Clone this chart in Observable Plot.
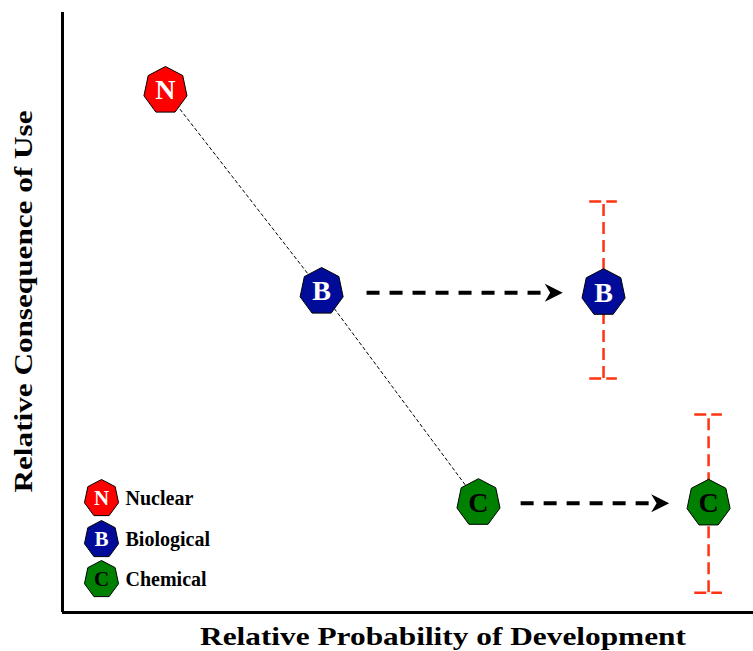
<!DOCTYPE html>
<html>
<head>
<meta charset="utf-8">
<script src="https://cdn.jsdelivr.net/npm/d3@7"></script>
<script src="https://cdn.jsdelivr.net/npm/@observablehq/plot@0.6"></script>
<style>
  html, body { margin: 0; padding: 0; background: #ffffff; }
  #chart svg { display: block; }
  #chart svg text { font-family: "Liberation Serif", "Times New Roman", Times, "DejaVu Serif", serif !important; }
</style>
</head>
<body>
<div id="chart"></div>
<script>
// ---- data ----
const names = ["Nuclear", "Biological", "Chemical"];
const letters = ["N", "B", "C"];
const fills = ["#ff0000", "#000c99", "#008000"];
const letterFills = ["#ffffff", "#ffffff", "#000000"];
const nowX = [14.9, 37.5, 60.2];
const nowY = [87, 53.5, 18.3];

const projLetters = ["B", "C"];
const projFills = ["#000c99", "#008000"];
const projLetterFills = ["#ffffff", "#000000"];
const projX = [78.3, 93.5];
const projY = [53.3, 18.2];
const rangeLow = [39, 3.3];
const rangeHigh = [68.5, 33];
const arrowStartX = [44.0, 66.3];
const arrowTipX = [72.4, 87.8];

const xLabel = "Relative Probability of Development";
const yLabel = "Relative Consequence of Use";

// ---- tables ----
const now = names.map((n, i) => ({name: n, letter: letters[i], fill: fills[i], lf: letterFills[i], x: nowX[i], y: nowY[i]}));
const proj = projLetters.map((l, i) => ({letter: l, fill: projFills[i], lf: projLetterFills[i], x: projX[i], y: projY[i], lo: rangeLow[i], hi: rangeHigh[i], x1: arrowStartX[i], x2: arrowTipX[i]}));

// ---- symbols ----
const heptagon = {
  draw(ctx, size) {
    const R = Math.sqrt(size / Math.PI);
    for (let i = 0; i < 7; i++) {
      const a = i * 2 * Math.PI / 7;
      const px = 0.92 * R * Math.sin(a), py = -R * Math.cos(a);
      if (i) ctx.lineTo(px, py); else ctx.moveTo(px, py);
    }
    ctx.closePath();
  }
};
const arrowHead = {
  draw(ctx, size) {
    const R = Math.sqrt(size / Math.PI);
    ctx.moveTo(0, 0);
    ctx.lineTo(-2 * R, -R);
    ctx.lineTo(-1.4 * R, 0);
    ctx.lineTo(-2 * R, R);
    ctx.closePath();
  }
};

const font = "'Liberation Serif', 'Times New Roman', Times, 'DejaVu Serif', serif";
const capHalf = 2.0;

const legendMarks = [];
names.forEach((n, i) => {
  const dys = [-114, -73, -33];
  legendMarks.push(Plot.dot([n], {frameAnchor: "bottom-left", dx: 39, dy: dys[i], symbol: heptagon, r: 19, fill: fills[i], stroke: "#000", strokeWidth: 1}));
  legendMarks.push(Plot.text([letters[i]], {frameAnchor: "bottom-left", dx: 39, dy: dys[i], text: d => d, fill: letterFills[i], fontSize: 21, fontWeight: "bold", fontFamily: font, textAnchor: "middle", lineAnchor: "middle"}));
  legendMarks.push(Plot.text([n], {frameAnchor: "bottom-left", dx: 63, dy: dys[i], text: d => d, fill: "#000", fontSize: 20, fontWeight: "bold", fontFamily: font, textAnchor: "start", lineAnchor: "middle"}));
});

const chart = Plot.plot({
  width: 753,
  height: 651,
  marginLeft: 62,
  marginRight: 0,
  marginTop: 12,
  marginBottom: 39,
  x: {domain: [0, 100], axis: null},
  y: {domain: [0, 100], axis: null},
  style: {background: "#ffffff", overflow: "visible", fontFamily: font},
  marks: [
    Plot.ruleX([0], {stroke: "#000", strokeWidth: 3}),
    Plot.ruleY([0], {stroke: "#000", strokeWidth: 3}),
    Plot.line(now, {x: "x", y: "y", stroke: "#000", strokeWidth: 1, strokeDasharray: "3,3"}),
    Plot.ruleX(proj, {x: "x", y1: "lo", y2: "hi", stroke: "#ff3311", strokeWidth: 2.5, strokeDasharray: "12,6"}),
    Plot.ruleY(proj, {y: "hi", x1: d => d.x - capHalf, x2: d => d.x + capHalf, stroke: "#ff3311", strokeWidth: 2.5, strokeDasharray: "12,5"}),
    Plot.ruleY(proj, {y: "lo", x1: d => d.x - capHalf, x2: d => d.x + capHalf, stroke: "#ff3311", strokeWidth: 2.5, strokeDasharray: "12,5"}),
    Plot.link(proj, {x1: "x1", x2: d => d.x2 - 1.5, y1: "y", y2: "y", stroke: "#000", strokeWidth: 4, strokeDasharray: "13,10"}),
    Plot.dot(proj, {x: "x2", y: "y", symbol: arrowHead, r: 9, fill: "#000", stroke: "none"}),
    Plot.dot(now, {x: "x", y: "y", symbol: heptagon, r: 24, fill: "fill", stroke: "#000", strokeWidth: 1}),
    Plot.text(now, {x: "x", y: "y", text: "letter", fill: "lf", fontSize: 28, fontWeight: "bold", fontFamily: font, lineAnchor: "middle"}),
    Plot.dot(proj, {x: "x", y: "y", symbol: heptagon, r: 24, fill: "fill", stroke: "#000", strokeWidth: 1}),
    Plot.text(proj, {x: "x", y: "y", text: "letter", fill: "lf", fontSize: 28, fontWeight: "bold", fontFamily: font, lineAnchor: "middle"}),
    ...legendMarks,
    Plot.text([xLabel], {frameAnchor: "bottom", dx: 35, dy: 32, text: d => d, fontSize: 26, fontWeight: "bold", fontFamily: font, fill: "#000", lineAnchor: "bottom"}),
    Plot.text([yLabel], {frameAnchor: "left", dx: -39, dy: -11, rotate: -90, text: d => d, fontSize: 26, fontWeight: "bold", fontFamily: font, fill: "#000", lineAnchor: "middle", textAnchor: "middle"})
  ]
});
// stretch the axis titles horizontally like the reference lettering
d3.select(chart).selectAll("text").each(function () {
  const t = this.textContent;
  if (t === xLabel) d3.select(this).attr("textLength", 486).attr("lengthAdjust", "spacingAndGlyphs");
  if (t === yLabel) d3.select(this).attr("textLength", 382).attr("lengthAdjust", "spacingAndGlyphs");
});
document.getElementById("chart").appendChild(chart);
</script>
</body>
</html>
